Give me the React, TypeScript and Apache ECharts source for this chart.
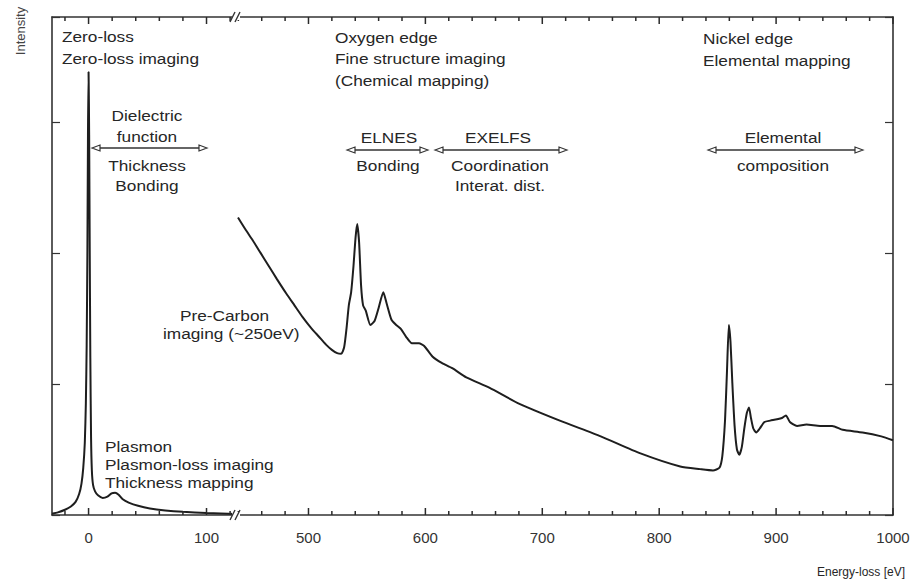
import React, { useEffect, useRef } from "react";
import * as echarts from "echarts";

// ---- Data ----
const leftEnergy = [-31, -26, -20, -15, -11, -8, -6, -4.5, -3.2, -2.3,
  -1.6, -1.0, -0.5, 0, 0.5, 1.0, 1.5, 2.1, 2.8, 3.8,
  5.5, 8, 12, 16, 19.5, 22.5, 25.5, 29, 34, 42,
  52, 65, 80, 100, 125];
const leftIntensity = [0.01, 0.02, 0.04, 0.065, 0.1, 0.16, 0.24, 0.36, 0.55, 0.85,
  1.3, 2.0, 2.9, 3.38, 2.9, 2.0, 1.2, 0.6, 0.34, 0.23,
  0.18, 0.15, 0.13, 0.14, 0.165, 0.17, 0.155, 0.12, 0.095, 0.07,
  0.05, 0.035, 0.024, 0.015, 0.008];

const rightEnergy = [439.7, 446, 452, 459, 466, 473, 481, 488, 495, 502,
  509, 515, 520, 524.5, 528, 530.5, 532.5, 534.5, 536.5, 538.5,
  540.3, 541.7, 543.3, 545, 546.7, 549, 553, 556.5, 560, 564,
  567, 571, 575, 579, 583.5, 588.5, 594.5, 599, 606, 614,
  623, 635, 655, 680, 715, 750, 784, 818, 835, 846,
  851.5, 854, 856.3, 858, 859.6, 861, 862.5, 864.5, 866.5, 868.5,
  870.7, 872.8, 875, 876.8, 878.5, 880.5, 883, 886, 890, 895,
  900.7, 905, 908.4, 911.8, 917.9, 926, 937.6, 948, 957, 974,
  990, 1000];
const rightIntensity = [2.27, 2.18, 2.10, 2.00, 1.90, 1.80, 1.69, 1.60, 1.51, 1.43,
  1.36, 1.30, 1.26, 1.235, 1.23, 1.28, 1.42, 1.60, 1.70, 1.90,
  2.12, 2.22, 2.08, 1.75, 1.60, 1.56, 1.45, 1.48, 1.58, 1.70,
  1.61, 1.49, 1.45, 1.42, 1.36, 1.31, 1.31, 1.29, 1.21, 1.16,
  1.12, 1.05, 0.97, 0.85, 0.72, 0.60, 0.47, 0.37, 0.35, 0.34,
  0.36, 0.45, 0.72, 1.10, 1.45, 1.32, 1.02, 0.68, 0.50, 0.46,
  0.52, 0.66, 0.78, 0.82, 0.74, 0.66, 0.63, 0.66, 0.71, 0.72,
  0.73, 0.74, 0.76, 0.71, 0.68, 0.69, 0.68, 0.68, 0.65, 0.63,
  0.60, 0.57];

// axis ranges (eV) of the two halves of the broken axis, and their ticks
const leftRange = [-31, 125];
const rightRange = [438, 1000];
const leftMajorTicks = [0, 100];
const leftMinorTicks = [-20, 20, 40, 60, 80, 120];
const rightMajorTicks = [500, 600, 700, 800, 900, 1000];
const rightMinorTicks = [440, 460, 480, 520, 540, 560, 580, 620, 640, 660, 680, 720, 740, 760, 780, 820, 840, 860, 880, 920, 940, 960, 980];
const yTicks = { min: 0, max: 3.8, interval: 1 };

const FONT = '"Liberation Sans", Arial, Helvetica, sans-serif';
const INK = "#262626";
const FRAME = "#333";

// pixel layout of the plot frame
const TOP = 17;
const HEIGHT = 498;
const LEFT0 = 52;
const W0 = 184;
const LEFT1 = 236;
const W1 = 657;

function zip(xs: number[], ys: number[]) {
  return xs.map((x, i) => [x, ys[i]]);
}

function txt(text: string, x: number, y: number, align: string = "left", size = 15, sx = 1.15) {
  return {
    type: "text", x, y, scaleX: sx, silent: true,
    style: {
      text, fill: INK, fontSize: size, fontFamily: FONT,
      textAlign: align, align, textVerticalAlign: "middle", verticalAlign: "middle",
    },
  };
}

function arrow(x1: number, x2: number, y: number) {
  const h = 3;
  const L = 8;
  return [
    { type: "line", silent: true, shape: { x1: x1 + 2, y1: y, x2: x2 - 2, y2: y }, style: { stroke: FRAME, lineWidth: 1.6 } },
    { type: "polygon", silent: true, shape: { points: [[x1, y], [x1 + L, y - h], [x1 + L, y + h]] }, style: { fill: "#fff", stroke: FRAME, lineWidth: 1.2 } },
    { type: "polygon", silent: true, shape: { points: [[x2, y], [x2 - L, y - h], [x2 - L, y + h]] }, style: { fill: "#fff", stroke: FRAME, lineWidth: 1.2 } },
  ];
}

function breakMark(cx: number, cy: number) {
  return [
    { type: "rect", silent: true, z: 100, shape: { x: cx - 4, y: cy - 3, width: 8, height: 6 }, style: { fill: "#fff" } },
    { type: "line", silent: true, z: 101, shape: { x1: cx - 6, y1: cy + 5, x2: cx - 1, y2: cy - 5 }, style: { stroke: FRAME, lineWidth: 1.4 } },
    { type: "line", silent: true, z: 101, shape: { x1: cx - 1, y1: cy + 5, x2: cx + 4, y2: cy - 5 }, style: { stroke: FRAME, lineWidth: 1.4 } },
  ];
}

function frameX(gridIndex: number, r: number[], labels: number[] | null, position: string) {
  return {
    type: "value", gridIndex, position, min: r[0], max: r[1],
    axisLine: { show: true, onZero: false, lineStyle: { color: FRAME, width: 1.6 } },
    axisTick: { show: false },
    axisLabel: labels
      ? { show: true, customValues: labels, margin: 15, fontSize: 15, color: "#333", fontFamily: FONT, formatter: (v: number) => String(v) }
      : { show: false },
    splitLine: { show: false },
  };
}

function frameY(gridIndex: number, position: string) {
  return {
    type: "value", gridIndex, position,
    min: yTicks.min, max: yTicks.max, interval: yTicks.interval,
    axisLine: { show: true, onZero: false, lineStyle: { color: FRAME, width: 1.6 } },
    axisTick: { show: true, inside: true, length: 8, lineStyle: { color: FRAME, width: 1.2 } },
    axisLabel: { show: false },
    splitLine: { show: false },
  };
}

export default function App() {
  const ref = useRef<HTMLDivElement>(null);
  useEffect(() => {
    if (!ref.current) return;
    const chart = echarts.init(ref.current, null, { renderer: "svg" });
    const graphic: any[] = [
      ...breakMark(236, 515),
      ...breakMark(236, 17),
      txt("Zero-loss", 62, 36),
      txt("Zero-loss imaging", 62, 58),
      txt("Dielectric", 147, 115, "center"),
      txt("function", 147, 136, "center"),
      ...arrow(92, 207, 148),
      txt("Thickness", 147, 165, "center"),
      txt("Bonding", 147, 185, "center"),
      txt("Oxygen edge", 335, 37),
      txt("Fine structure imaging", 335, 58),
      txt("(Chemical mapping)", 335, 80),
      txt("ELNES", 389, 137, "center"),
      ...arrow(347, 428, 150),
      txt("Bonding", 388, 165, "center"),
      txt("EXELFS", 498, 137, "center"),
      ...arrow(435, 567, 150),
      txt("Coordination", 500, 165, "center"),
      txt("Interat. dist.", 500, 185, "center"),
      txt("Nickel edge", 703, 38),
      txt("Elemental mapping", 703, 60),
      txt("Elemental", 783, 137, "center"),
      ...arrow(708, 863, 150),
      txt("composition", 783, 165, "center"),
      txt("Pre-Carbon", 180, 315),
      txt("imaging (~250eV)", 163, 333),
      txt("Plasmon", 105, 446),
      txt("Plasmon-loss imaging", 105, 464),
      txt("Thickness mapping", 105, 482),
      txt("Energy-loss [eV]", 905, 572, "right", 12, 1.0),
      {
        type: "text", x: 20, y: 31, rotation: Math.PI / 2, silent: true,
        style: { text: "Intensity", fill: "#444", fontSize: 13, fontFamily: FONT, textAlign: "center", align: "center", textVerticalAlign: "middle", verticalAlign: "middle" },
      },
    ];
    chart.setOption({
      animation: false,
      backgroundColor: "#fff",
      grid: [
        { left: LEFT0, top: TOP, width: W0, height: HEIGHT, outerBoundsMode: "none", containLabel: false },
        { left: LEFT1, top: TOP, width: W1, height: HEIGHT, outerBoundsMode: "none", containLabel: false },
      ],
      xAxis: [
        frameX(0, leftRange, leftMajorTicks, "bottom"),
        frameX(1, rightRange, rightMajorTicks, "bottom"),
        frameX(0, leftRange, null, "top"),
        frameX(1, rightRange, null, "top"),
      ],
      yAxis: [frameY(0, "left"), frameY(1, "right")],
      series: [
        {
          type: "line", xAxisIndex: 0, yAxisIndex: 0, data: zip(leftEnergy, leftIntensity),
          showSymbol: false, smooth: 0.2, lineStyle: { color: "#1e1e1e", width: 2 }, silent: true,
        },
        {
          type: "line", xAxisIndex: 1, yAxisIndex: 1, data: zip(rightEnergy, rightIntensity),
          showSymbol: false, smooth: 0.2, lineStyle: { color: "#1e1e1e", width: 2 }, silent: true,
        },
      ],
      graphic,
    });

    // inward tick marks on the bottom and top frame lines, positioned through the axis scales
    const ranges = [leftRange, rightRange];
    const lefts = [LEFT0, LEFT1];
    const widths = [W0, W1];
    const ticks: any[] = [];
    const addTicks = (axisIndex: number, values: number[], len: number) => {
      values.forEach((v) => {
        let px: any = null;
        try {
          px = chart.convertToPixel({ xAxisIndex: axisIndex }, v);
        } catch (e) {
          px = null;
        }
        if (typeof px !== "number" || !isFinite(px)) {
          const r = ranges[axisIndex];
          px = lefts[axisIndex] + ((v - r[0]) / (r[1] - r[0])) * widths[axisIndex];
        }
        const yb = TOP + HEIGHT;
        const yt = TOP;
        const st = { stroke: "#2a2a2a", lineWidth: 1.5 };
        ticks.push({ type: "line", silent: true, z: 50, shape: { x1: px, y1: yb, x2: px, y2: yb - len }, style: st });
        ticks.push({ type: "line", silent: true, z: 50, shape: { x1: px, y1: yt, x2: px, y2: yt + len }, style: st });
      });
    };
    addTicks(0, leftMajorTicks, 7);
    addTicks(0, leftMinorTicks, 4);
    addTicks(1, rightMajorTicks, 7);
    addTicks(1, rightMinorTicks, 4);
    chart.setOption({ graphic: [...graphic, ...ticks] });

    return () => chart.dispose();
  }, []);
  return <div ref={ref} style={{ position: "fixed", left: 0, top: 0, width: 911, height: 584 }} />;
}
